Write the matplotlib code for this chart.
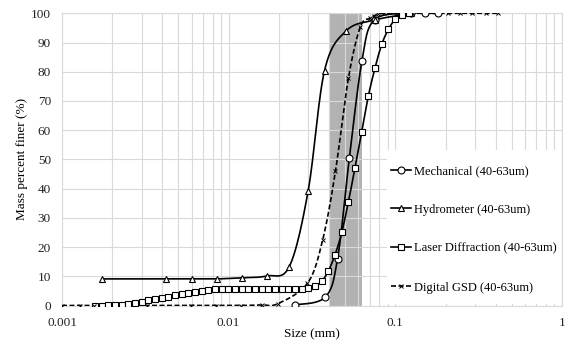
import matplotlib.pyplot as plt
from matplotlib.lines import Line2D
from matplotlib.patches import Rectangle
import numpy as np

plt.rcParams['font.family'] = ['Liberation Serif', 'DejaVu Serif']

# sieve sizes (mm) and percent finer
mech_size = [0.025, 0.038, 0.045, 0.053, 0.063, 0.075, 0.125, 0.150, 0.180]
mech_pct = [0.2, 2.9, 16.0, 50.5, 83.6, 97.8, 100, 100, 100]

hydro_size = [0.00174, 0.00423, 0.0060, 0.00848, 0.0120, 0.0169, 0.0231, 0.0300, 0.0376, 0.0507, 0.075, 0.125]
hydro_pct = [9.1, 9.1, 9.1, 9.1, 9.5, 10.1, 13.3, 39.3, 80.4, 94.0, 97.7, 100]

laser_size = [0.00158, 0.00173, 0.00190, 0.00208, 0.00228, 0.00250, 0.00274, 0.00301, 0.00330, 0.00362,
              0.00397, 0.00435, 0.00477, 0.00523, 0.00573, 0.00629, 0.00689, 0.00756, 0.00829, 0.00909,
              0.00996, 0.0109, 0.0120, 0.0131, 0.0144, 0.0158, 0.0173, 0.0190, 0.0208, 0.0228,
              0.0250, 0.0274, 0.0301, 0.0330, 0.0362, 0.0397, 0.0435, 0.0477, 0.0523, 0.0573,
              0.0629, 0.0689, 0.0756, 0.0829, 0.0909, 0.0996, 0.109, 0.120]
laser_pct = [0, 0, 0.05, 0.1, 0.2, 0.5, 1.0, 1.3, 1.9, 2.2,
             2.7, 3.0, 3.5, 3.8, 4.2, 4.7, 5.1, 5.4, 5.5, 5.5,
             5.5, 5.5, 5.5, 5.5, 5.5, 5.5, 5.5, 5.5, 5.5, 5.5,
             5.5, 5.5, 6.0, 6.7, 8.3, 11.9, 17.4, 25.0, 35.5, 47.2,
             59.5, 71.7, 81.4, 89.4, 94.5, 97.9, 99.4, 100]

gsd_size = [0.00100, 0.00128, 0.00156, 0.00323, 0.00592, 0.00835, 0.0118, 0.0158, 0.0197, 0.0297,
            0.0366, 0.0437, 0.0523, 0.0617, 0.0708, 0.0748, 0.0791, 0.0859, 0.1028, 0.2075,
            0.245, 0.289, 0.351, 0.414]
gsd_pct = [0, 0, 0, 0, 0, 0, 0, 0.2, 0.6, 7.6,
           22.3, 45.9, 77.8, 95.4, 98.3, 99.2, 99.7, 100, 100, 100,
           100, 100, 100, 100]

labels = ['Mechanical (40-63um)', 'Hydrometer (40-63um)',
          'Laser Diffraction (40-63um)', 'Digital GSD (40-63um)']


def smooth(x, y, n=24):
    # excel style smoothed line (catmull-rom bezier) in log-x space
    lx = np.log10(x)
    y = np.asarray(y, float)
    px = np.concatenate([[lx[0]], lx, [lx[-1]]])
    py = np.concatenate([[y[0]], y, [y[-1]]])
    t = np.linspace(0, 1, n)[:, None]
    out = []
    for i in range(1, len(px) - 2):
        p0 = np.array([px[i], py[i]])
        p3 = np.array([px[i + 1], py[i + 1]])
        p1 = p0 + (p3 - np.array([px[i - 1], py[i - 1]])) / 6
        p2 = p3 - (np.array([px[i + 2], py[i + 2]]) - p0) / 6
        seg = (1 - t) ** 3 * p0 + 3 * (1 - t) ** 2 * t * p1 + 3 * (1 - t) * t ** 2 * p2 + t ** 3 * p3
        out.append(seg)
    out = np.vstack(out)
    return 10 ** out[:, 0], out[:, 1]


fig = plt.figure(figsize=(5.66, 3.42), dpi=100)
ax = fig.add_axes([62 / 566, 1 - 305.5 / 342, 500 / 566, 292.2 / 342])
ax.set_xscale('log')
ax.set_xlim(0.001, 1)
ax.set_ylim(0, 100)

ax.axvspan(0.04, 0.063, color='#b2b2b2', zorder=0.2, lw=0)

ax.set_axisbelow(True)
ax.grid(which='major', axis='both', color='#d9d9d9', lw=0.8)
ax.grid(which='minor', axis='x', color='#d9d9d9', lw=0.8)
for s in ax.spines.values():
    s.set_color('#d9d9d9')
    s.set_linewidth(0.8)
ax.tick_params(which='both', length=0, labelsize=9.5, colors='#222222', pad=8)
ax.set_yticks(range(0, 101, 10))
ax.set_xticks([0.001, 0.01, 0.1, 1])
ax.set_xticklabels(['0.001', '0.01', '0.1', '1'])
ax.set_xlabel('Size (mm)', fontsize=9.5, labelpad=0)
ax.set_ylabel('Mass percent finer (%)', fontsize=9.5, labelpad=2)

# legend background
ax.add_patch(Rectangle((0.65, 0.004), 0.35, 0.528, transform=ax.transAxes,
                       facecolor='white', edgecolor='none', zorder=1))

styles = [
    (mech_size, mech_pct, dict(marker='o', ms=5), '-'),
    (hydro_size, hydro_pct, dict(marker='^', ms=5), '-'),
    (laser_size, laser_pct, dict(marker='s', ms=5), '-'),
    (gsd_size, gsd_pct, dict(marker='x', ms=2.5, mew=0.7), (0, (3, 1.5))),
]
handles = []
for (sx, sy, mk, ls), lab in zip(styles, labels):
    cx, cy = smooth(sx, sy)
    ax.plot(cx, cy, color='black', lw=1.2, ls=ls, zorder=3)
    face = 'white' if mk['marker'] != 'x' else 'black'
    ax.plot(sx, sy, ls='none', color='black', mfc=face, mew=mk.get('mew', 0.8),
            marker=mk['marker'], ms=mk['ms'], zorder=4)
    handles.append(Line2D([], [], color='black', lw=1.2, ls=ls, marker=mk['marker'],
                          ms=mk['ms'], mfc=face, mew=mk.get('mew', 0.8)))

ax.legend(handles, labels, loc='upper left', bbox_to_anchor=(391 / 566, 1 - 165 / 342),
          bbox_transform=fig.transFigure, frameon=False, fontsize=9,
          handlelength=1.6, handletextpad=0.2, labelspacing=2.15, borderpad=0,
          borderaxespad=0)

fig.savefig('out.png', dpi=100)
